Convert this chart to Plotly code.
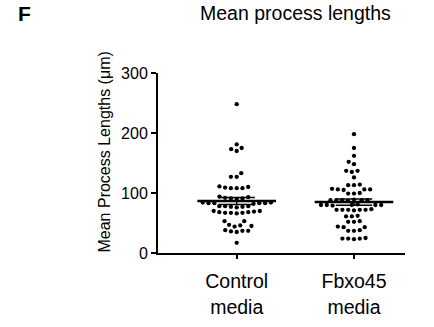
import math
import plotly.graph_objects as go

categories = ["Control<br>media", "Fbxo45<br>media"]
control = [248, 181, 175, 173, 170, 133, 127, 127, 111, 110, 109, 108, 108, 108,
           94, 93, 92, 91, 91, 90, 84, 83, 83, 83, 83, 82, 84,
           78, 78, 77, 77, 76, 78, 70, 69, 68, 67, 67, 66, 68, 67, 70,
           53, 53, 47, 46, 45, 44, 38, 37, 36, 37, 35, 17]
fbxo45 = [198, 175, 162, 152, 148, 137, 135, 137, 126, 113, 114, 113,
          106, 106, 107, 106, 105, 99, 99, 100, 88, 88, 89, 88, 87, 88, 88,
          80, 80, 81, 80, 79, 80, 80, 72, 72, 73, 72, 71, 72, 72,
          61, 61, 62, 52, 52, 53, 43, 43, 44, 37, 37, 38, 24, 24, 25, 24, 23]
series = [control, fbxo45]

# pixel scales used only for the non-overlap (beeswarm) layout
PX_X = 117.3
PX_Y = 0.6
D = 5.8


def beeswarm(vals):
    order = sorted(range(len(vals)), key=lambda i: vals[i])
    placed = []
    out = [0.0] * len(vals)
    for i in order:
        y = vals[i] * PX_Y
        cands = [0.0]
        near = []
        for (px, py) in placed:
            dy = abs(py - y)
            if dy < D:
                w = math.sqrt(D * D - dy * dy)
                near.append((px, w))
                cands += [px - w - 0.01, px + w + 0.01]
        cands.sort(key=lambda c: (abs(c), c))
        for c in cands:
            if all(abs(c - px) >= w for px, w in near):
                placed.append((c, y))
                out[i] = c / PX_X
                break
    return out


fig = go.Figure()
for k, vals in enumerate(series):
    offs = beeswarm(vals)
    fig.add_trace(go.Scatter(
        x=[k + o for o in offs], y=vals, mode="markers",
        marker=dict(color="black", size=4.3, line=dict(width=0)),
        showlegend=False, hoverinfo="y"))
    n = len(vals)
    mean = sum(vals) / n
    sd = math.sqrt(sum((v - mean) ** 2 for v in vals) / (n - 1))
    sem = sd / math.sqrt(n)
    fig.add_trace(go.Scatter(x=[k - 0.335, k + 0.335], y=[mean, mean], mode="lines",
                             line=dict(color="black", width=2.5), showlegend=False, hoverinfo="skip"))
    for yv in (mean - sem, mean + sem):
        fig.add_trace(go.Scatter(x=[k - 0.155, k + 0.155], y=[yv, yv], mode="lines",
                                 line=dict(color="black", width=1.5), showlegend=False, hoverinfo="skip"))
    fig.add_trace(go.Scatter(x=[k, k], y=[mean - sem, mean + sem], mode="lines",
                             line=dict(color="black", width=1.5), showlegend=False, hoverinfo="skip"))

font = "Arial, Liberation Sans, sans-serif"
fig.update_layout(
    width=434, height=327,
    margin=dict(l=158, r=29, t=73, b=74, autoexpand=False),
    plot_bgcolor="white", paper_bgcolor="white",
    font=dict(family=font, color="black"),
    xaxis=dict(range=[-0.671, 1.435], tickvals=[0, 1], ticktext=categories,
               showline=True, linecolor="black", linewidth=2, ticks="outside",
               ticklen=4, tickwidth=2, tickcolor="black", showgrid=False, zeroline=False,
               automargin=False, ticklabelstandoff=6,
               tickfont=dict(size=19.5, family=font, color="black")),
    yaxis=dict(range=[0, 300], tickvals=[0, 100, 200, 300],
               showline=True, linecolor="black", linewidth=2, ticks="outside",
               ticklen=5, tickwidth=2, tickcolor="black", showgrid=False, zeroline=False,
               automargin=False,
               tickfont=dict(size=16, family=font, color="black")),
    annotations=[
        dict(text="Mean process lengths", xref="paper", yref="paper",
             x=(295 - 158) / 247, y=(253 - 13) / 180, xanchor="center", yanchor="middle",
             showarrow=False, font=dict(size=19.5, family=font, color="black")),
        dict(text="<b>F</b>", xref="paper", yref="paper",
             x=(16 - 158) / 247, y=(253 - 0) / 180, xanchor="left", yanchor="top",
             showarrow=False, font=dict(size=21, family=font, color="black")),
        dict(text="Mean Process Lengths (μm)", xref="paper", yref="paper",
             x=(104 - 158) / 247, y=(253 - 152.5) / 180, xanchor="center", yanchor="middle",
             textangle=-90, showarrow=False, font=dict(size=16, family=font, color="black")),
    ],
)

fig.write_html("out.html", config={"displayModeBar": False},
               post_script="document.body.style.margin='0';")
